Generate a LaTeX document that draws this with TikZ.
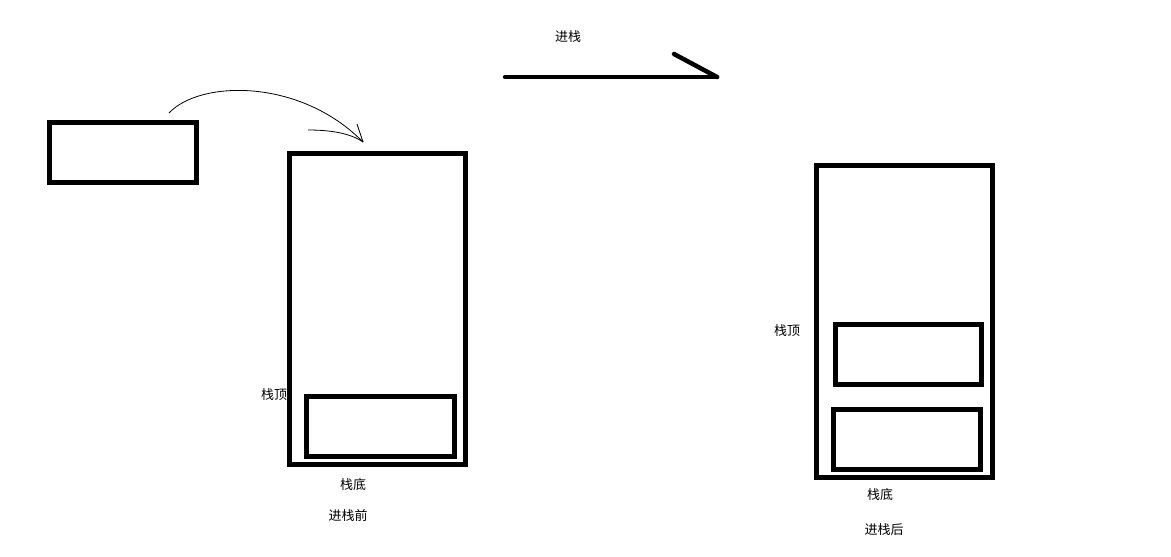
\documentclass[tikz,border=0pt]{standalone}
\usepackage{fontspec}
\setmainfont{Noto Sans CJK SC}
\begin{document}
\begin{tikzpicture}[
    x=1pt,
    y=-1pt,
    box/.style={draw, line width=5pt, inner sep=0pt, minimum width=#1},
    label/.style={font=\fontsize{13pt}{15pt}\selectfont, inner sep=0pt}
]
\useasboundingbox (0,0) rectangle (1171,557);

% Element to push
\node[box=147pt, minimum height=60pt] (elem) at (122.5,152) {};

% Stack before push
\node[box=176pt, minimum height=311pt] (stackA) at (377,308.5) {};
\node[box=148pt, minimum height=60pt] (itemA) at (380,426) {};

% Stack after push
\node[box=176pt, minimum height=312pt] (stackB) at (904,321) {};
\node[box=146pt, minimum height=60pt] (itemB) at (908,354) {};
\node[box=147pt, minimum height=60pt] (itemC) at (906.5,439) {};

% Curved hand-drawn arrow
\coordinate (curveStart) at (169,113);
\coordinate (curveEnd) at (363,142);
\coordinate (tailStart) at (308,130);
\coordinate (barbTop) at (357,124);
\draw[line width=0.8pt] (curveStart) .. controls (200,80) and (300,78) .. (curveEnd);
\draw[line width=0.8pt] (tailStart) .. controls (330,130) and (350,133) .. (curveEnd);
\draw[line width=0.8pt] (barbTop) -- (curveEnd);

% Push arrow
\coordinate (pushStart) at (505,77);
\coordinate (pushEnd) at (717,77);
\coordinate (pushBarb) at (674,54);
\draw[line width=4.5pt, line cap=round] (pushStart) -- (pushEnd);
\draw[line width=4.5pt, line cap=round] (pushBarb) -- (pushEnd);

% Labels
\node[label] (pushLabel) at (568,37) {进栈};
\node[label] (topA) at (274,395) {栈顶};
\node[label] (bottomA) at (353,485) {栈底};
\node[label] (before) at (348,516) {进栈前};
\node[label] (topB) at (787,331) {栈顶};
\node[label] (bottomB) at (880,495) {栈底};
\node[label] (after) at (884,530) {进栈后};

\end{tikzpicture}
\end{document}
